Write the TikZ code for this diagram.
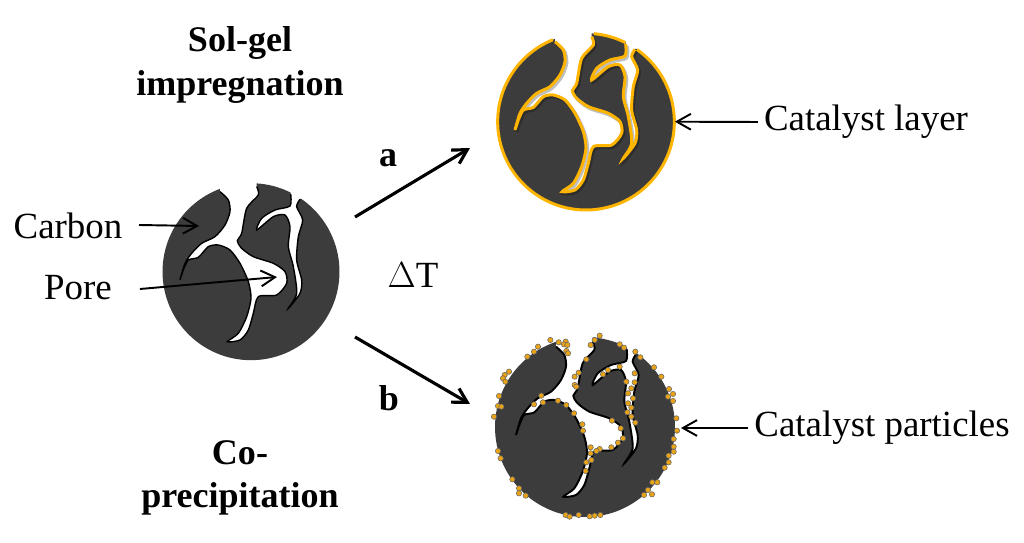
\documentclass[tikz,border=0pt]{standalone}
\usepackage{fontspec}
\setmainfont{Liberation Serif}
\usetikzlibrary{arrows.meta}
\definecolor{carbon}{HTML}{3C3C3C}
\definecolor{catalyst}{HTML}{FFB400}
\definecolor{particle}{HTML}{E8A317}
\tikzset{
grain/.style={shape=circle, fill=carbon, inner sep=0pt},
wall/.style={draw=black, line width=0.8pt},
layer/.style={draw=catalyst, line width=1.7pt},
haze/.style={draw=black, line width=1.8pt, opacity=0.25},
bead/.style={draw=black!60, fill=particle, line width=0.3pt},
label/.style={font=\fontsize{21}{25}\selectfont},
title/.style={font=\fontsize{20.5}{24.5}\selectfont\bfseries, align=center},
>={Straight Barb[length=8pt,width=9pt]}}
\newcommand{\poremain}{plot[smooth, tension=.45] coordinates {(210,65) (235,90) (240,125) (225,165) (195,200) (155,220) (125,250) (105,280) (90,330) (100,300) (115,270) (145,262) (175,230) (205,225) (240,240) (270,280) (295,335) (303,385) (290,440) (265,490) (232,515) (270,510) (295,480) (310,430) (325,380) (380,375) (410,340) (405,305) (370,280) (310,260) (275,235) (262,212) (275,190) (290,115) (325,75) (320,50)}}
\newcommand{\porebranch}{plot[smooth, tension=.45] coordinates {(422,72) (420,108) (375,120) (335,145) (320,180) (370,140) (405,135) (420,170) (415,230) (430,290) (440,370) (415,415) (450,370) (455,330) (440,270) (445,200) (458,150) (440,110) (450,88)}}
\newcommand{\poreopen}{
    \fill[white] \poremain -- (320,20) -- (210,30) -- cycle;
    \fill[white] \porebranch -- (470,60) -- (425,40) -- cycle;
}
\begin{document}
\begin{tikzpicture}[x=0.02cm, y=-0.02cm]
    \useasboundingbox (0,0) rectangle (1024,543);

    \node[grain, minimum size=3.54cm] (bare) at (251,271.7) {};
    \node[grain, minimum size=3.54cm] (coated) at (586,121.7) {};
    \node[grain, minimum size=3.6cm] (loaded) at (585,427) {};

    \begin{scope}[shift={(150,170)}, scale=1/3]
        \poreopen
        \draw[wall] \poremain;
        \draw[wall] \porebranch;
    \end{scope}

    \begin{scope}[shift={(485,20)}, scale=1/3]
        \poreopen
        \draw[haze, shift={(5,6)}] \poremain;
        \draw[haze, shift={(5,6)}] \porebranch;
        \draw[layer] \poremain;
        \draw[layer] \porebranch;
        \draw[layer] ([shift={(303,305)}]-54.7:265) arc[start angle=-54.7, end angle=248, radius=265];
        \draw[layer] ([shift={(303,305)}]-85:265) arc[start angle=-85, end angle=-63.5, radius=265];
    \end{scope}

    \begin{scope}[shift={(486,325)}, scale=1/3]
        \poreopen
        \draw[wall, line width=1.1pt] \poremain;
        \draw[wall, line width=1.1pt] \porebranch;
        \foreach \bx/\by in {197/45,222/52,243/50,245/78,250/85,238/58,248/60,160/65,148/80,128/95,73/140,60/150,55/160,62/170,43/213,40/243,50/245,28/275,40/378,48/400,83/463,103/490,103/505,123/512,243/570,255/575,282/570,315/574,330/572,347/570,478/510,502/508,490/495,503/472,518/472,540/428,552/412,552/392,567/380,567/365,567/342,577/317,575/280,565/228,550/215,565/207,553/192,530/155,508/127,467/97,452/80,418/68,405/58,345/32,330/45,318/60,305/103,282/143,270/155,270/180,275/185,148/238,170/212,175/232,220/227,245/240,268/265,293/298,295/317,318/367,318/385,345/372,335/378,320/405,305/412,303/438,380/367,400/353,415/340,408/310,382/287,370/135,355/148,405/125,425/170,450/172,450/145,440/190,430/205,445/220,430/235,440/248,428/262,440/275,452/293}
            \draw[bead] (\bx-4,\by) circle (8);
    \end{scope}

    \node[title] (solgel) at (240,65) {Sol-gel\\impregnation};
    \node[title] (coprec) at (240,478) {Co-\\precipitation};
    \node[label] (carbonlabel) at (68,226) {Carbon};
    \node[label] (porelabel) at (78,288) {Pore};
    \node[label] (deltat) at (413,275) {$\Delta$T};
    \node[label] (layerlabel) at (866,122) {Catalyst layer};
    \node[label] (beadlabel) at (882,428) {Catalyst particles};
    \node[title] (patha) at (388,158) {a};
    \node[title] (pathb) at (389,398) {b};

    \coordinate (carbonend) at (199,226);
    \coordinate (poreend) at (277,277);
    \coordinate (poretail) at (140,289);
    \coordinate (carbontail) at (139,225);
    \coordinate (atail) at (355,217);
    \coordinate (ahead) at (470,148);
    \coordinate (btail) at (355,337);
    \coordinate (bhead) at (470,404);
    \coordinate (beadend) at (681,428);

    \draw[->, line width=1.1pt] (carbontail) -- (carbonend);
    \draw[->, line width=1.1pt] (poretail) -- (poreend);
    \draw[->, line width=1.8pt] (atail) -- (ahead);
    \draw[->, line width=1.8pt] (btail) -- (bhead);
    \draw[->, line width=1.1pt] (layerlabel.west) -- (coated.east);
    \draw[->, line width=1.1pt] (beadlabel.west) -- (beadend);

\end{tikzpicture}
\end{document}
